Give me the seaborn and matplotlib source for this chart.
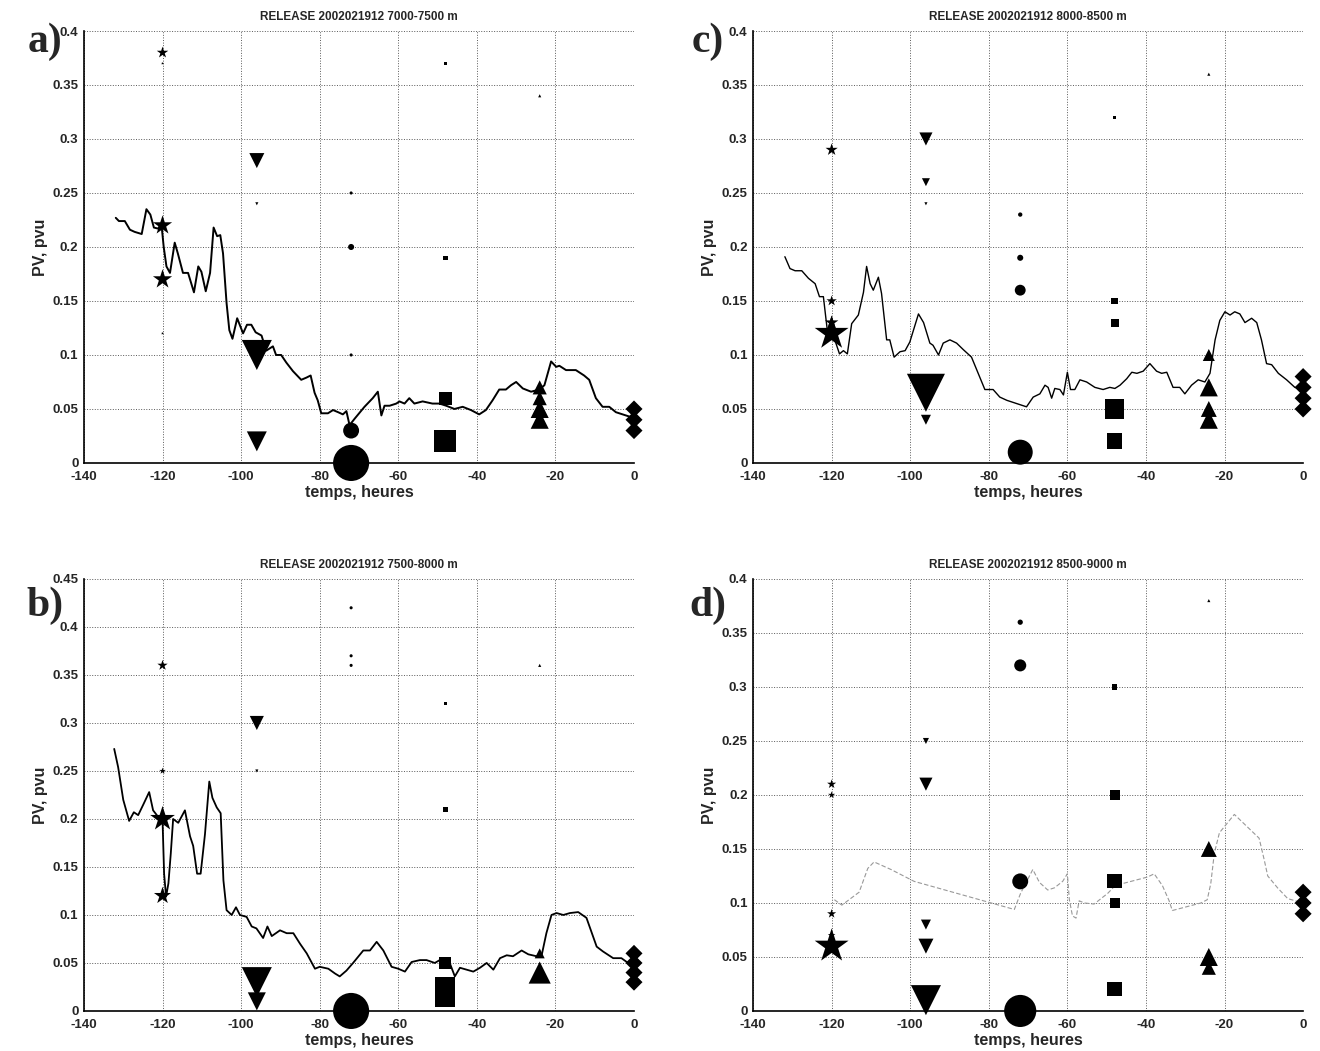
import numpy as np
import pandas as pd
import matplotlib
matplotlib.use('Agg')
import matplotlib.pyplot as plt
import seaborn as sns
from matplotlib.ticker import FuncFormatter, MultipleLocator

# PV along back-trajectory (hours before release), one trace per panel
line_t_a = [-131.9, -131.1, -129.6, -128.3, -127.1, -125.3, -124.1, -123.1, -122.2, -121.1,
            -120.3, -119.7, -119.0, -118.1, -116.9, -116.1, -114.8, -113.5, -112.0, -110.9,
            -110.1, -109.0, -107.9, -107.0, -106.1, -105.3, -104.6, -103.7, -103.0, -102.2,
            -101.0, -99.5, -98.5, -97.4, -96.3, -94.8, -93.6, -91.9, -91.1, -89.8,
            -88.5, -86.8, -84.7, -83.4, -82.3, -81.3, -80.5, -79.6, -77.9, -76.6,
            -75.3, -74.1, -73.2, -72.4, -71.1, -68.6, -66.5, -65.2, -64.3, -63.5,
            -62.2, -60.5, -59.7, -58.4, -57.2, -55.9, -53.8, -51.3, -49.5, -47.8,
            -45.7, -43.6, -41.5, -39.4, -37.7, -36.0, -34.3, -32.6, -31.3, -30.0,
            -28.3, -26.2, -24.1, -22.8, -21.1, -19.8, -19.0, -17.3, -14.8, -12.7,
            -11.4, -9.7, -8.0, -6.3, -4.6, -2.9, -1.2, 0.0]
line_pv_a = [0.227, 0.224, 0.224, 0.216, 0.214, 0.212, 0.235, 0.230, 0.218, 0.217,
             0.222, 0.200, 0.182, 0.176, 0.204, 0.194, 0.176, 0.176, 0.158, 0.182,
             0.177, 0.159, 0.176, 0.218, 0.210, 0.211, 0.194, 0.148, 0.123, 0.115,
             0.134, 0.120, 0.128, 0.128, 0.121, 0.118, 0.104, 0.108, 0.100, 0.100,
             0.093, 0.085, 0.077, 0.079, 0.081, 0.065, 0.058, 0.046, 0.046, 0.049,
             0.047, 0.045, 0.048, 0.035, 0.041, 0.052, 0.060, 0.066, 0.044, 0.053,
             0.053, 0.055, 0.057, 0.055, 0.060, 0.055, 0.057, 0.055, 0.055, 0.053,
             0.050, 0.052, 0.049, 0.045, 0.049, 0.058, 0.068, 0.068, 0.072, 0.075,
             0.069, 0.066, 0.068, 0.072, 0.094, 0.089, 0.090, 0.086, 0.086, 0.081,
             0.077, 0.060, 0.052, 0.052, 0.047, 0.045, 0.043, 0.042]

line_t_b = [-132.3, -131.3, -130.0, -128.5, -127.3, -126.2, -124.9, -123.4, -122.4, -120.7,
            -120.0, -119.6, -119.1, -118.5, -117.9, -117.3, -116.0, -114.3, -113.0, -112.2,
            -111.2, -110.3, -109.2, -108.1, -107.3, -106.2, -105.2, -104.5, -103.7, -102.4,
            -101.3, -100.3, -98.6, -97.3, -96.1, -94.4, -93.3, -92.2, -90.1, -88.4,
            -86.7, -85.0, -83.3, -81.2, -80.0, -77.8, -76.1, -74.9, -73.2, -71.5,
            -68.9, -67.2, -65.5, -63.8, -61.7, -60.0, -58.3, -56.6, -54.5, -52.8,
            -50.7, -48.6, -46.9, -45.6, -44.3, -42.6, -40.9, -39.2, -37.5, -35.8,
            -34.1, -32.4, -30.8, -28.6, -26.9, -24.8, -23.5, -22.3, -21.0, -19.7,
            -18.0, -16.3, -14.2, -12.1, -9.5, -7.9, -5.3, -3.2, -1.5, 0.0]
line_pv_b = [0.273, 0.254, 0.220, 0.198, 0.207, 0.204, 0.215, 0.228, 0.209, 0.200,
             0.199, 0.143, 0.119, 0.133, 0.164, 0.200, 0.196, 0.209, 0.182, 0.172,
             0.143, 0.143, 0.184, 0.239, 0.222, 0.212, 0.206, 0.136, 0.105, 0.100,
             0.108, 0.100, 0.098, 0.088, 0.086, 0.076, 0.088, 0.078, 0.084, 0.081,
             0.081, 0.070, 0.060, 0.044, 0.046, 0.044, 0.039, 0.036, 0.042, 0.050,
             0.063, 0.063, 0.072, 0.063, 0.046, 0.044, 0.041, 0.051, 0.053, 0.053,
             0.050, 0.055, 0.050, 0.036, 0.045, 0.043, 0.041, 0.045, 0.050, 0.043,
             0.055, 0.058, 0.057, 0.063, 0.059, 0.057, 0.058, 0.081, 0.100, 0.102,
             0.100, 0.102, 0.103, 0.097, 0.067, 0.062, 0.055, 0.055, 0.050, 0.050]

line_t_c = [-131.9, -130.6, -129.3, -127.6, -125.9, -124.2, -123.1, -122.1, -121.4, -120.8,
            -120.0, -119.2, -118.0, -117.0, -116.0, -114.9, -113.2, -111.9, -111.1, -110.2,
            -109.4, -108.1, -107.3, -106.0, -105.2, -104.1, -102.6, -101.3, -100.1, -97.9,
            -96.6, -95.0, -94.2, -92.8, -91.6, -89.9, -88.2, -86.5, -84.4, -82.7,
            -81.0, -78.9, -77.2, -75.4, -72.9, -70.4, -68.7, -67.0, -65.7, -64.9,
            -64.0, -63.2, -61.9, -61.0, -60.0, -59.2, -58.1, -56.8, -55.1, -53.0,
            -50.9, -49.2, -47.9, -46.6, -44.9, -43.6, -42.3, -40.7, -39.0, -37.3,
            -36.0, -34.7, -33.1, -31.4, -30.1, -28.4, -26.7, -25.0, -23.7, -22.4,
            -21.2, -19.9, -18.6, -17.4, -16.1, -14.8, -13.1, -11.8, -10.6, -9.3,
            -8.0, -6.3, -4.2, -2.1, 0.0]
line_pv_c = [0.191, 0.180, 0.178, 0.178, 0.171, 0.166, 0.154, 0.154, 0.132, 0.114,
             0.123, 0.114, 0.101, 0.104, 0.101, 0.129, 0.137, 0.158, 0.182, 0.166,
             0.160, 0.172, 0.157, 0.114, 0.114, 0.098, 0.103, 0.104, 0.112, 0.138,
             0.130, 0.111, 0.109, 0.100, 0.111, 0.114, 0.111, 0.105, 0.098, 0.083,
             0.068, 0.068, 0.061, 0.058, 0.055, 0.052, 0.061, 0.064, 0.072, 0.070,
             0.060, 0.069, 0.068, 0.063, 0.084, 0.068, 0.068, 0.077, 0.075, 0.070,
             0.068, 0.070, 0.069, 0.072, 0.078, 0.084, 0.083, 0.085, 0.092, 0.085,
             0.083, 0.084, 0.070, 0.070, 0.064, 0.072, 0.077, 0.075, 0.083, 0.114,
             0.132, 0.140, 0.137, 0.140, 0.138, 0.130, 0.134, 0.130, 0.114, 0.092,
             0.091, 0.083, 0.077, 0.070, 0.068]

line_t_d = [-119.3, -117.4, -113.0, -110.8, -109.2, -104.9, -99.0, -73.5, -71.9, -68.8,
            -67.1, -65.0, -63.3, -61.2, -60.0, -59.5, -58.7, -57.8, -57.0, -55.7,
            -53.2, -49.7, -47.6, -45.9, -39.6, -37.9, -35.8, -34.1, -33.3, -26.0,
            -24.4, -23.5, -22.6, -21.3, -17.5, -11.2, -9.9, -9.0, -6.5, -3.9, 0.0]
line_pv_d = [0.103, 0.098, 0.110, 0.132, 0.138, 0.131, 0.120, 0.094, 0.109, 0.131,
             0.119, 0.112, 0.114, 0.120, 0.127, 0.103, 0.088, 0.086, 0.102, 0.100,
             0.099, 0.109, 0.117, 0.118, 0.124, 0.127, 0.116, 0.102, 0.093, 0.100,
             0.103, 0.118, 0.146, 0.165, 0.182, 0.160, 0.140, 0.125, 0.114, 0.104, 0.100]

# PV of the trajectory bundles at each 24 h step, and estimated number of trajectories
mk_t_a = [-120, -120, -120, -120, -120, -96, -96, -96, -96, -72, -72, -72, -72, -72,
          -48, -48, -48, -48, -24, -24, -24, -24, -24, 0, 0, 0]
mk_pv_a = [0.38, 0.37, 0.22, 0.17, 0.12, 0.28, 0.24, 0.10, 0.02, 0.25, 0.20, 0.10, 0.03, 0.0,
           0.37, 0.19, 0.06, 0.02, 0.34, 0.07, 0.06, 0.05, 0.04, 0.05, 0.04, 0.03]
mk_n_a = [16, 1, 45, 45, 1, 25, 1, 100, 44, 1, 4, 1, 28, 144,
          1, 2, 19, 54, 1, 22, 22, 36, 36, 16, 16, 16]

mk_t_b = [-120, -120, -120, -120, -96, -96, -96, -96, -72, -72, -72, -72,
          -48, -48, -48, -48, -48, -24, -24, -24, 0, 0, 0, 0]
mk_pv_b = [0.36, 0.25, 0.20, 0.12, 0.30, 0.25, 0.03, 0.01, 0.42, 0.37, 0.36, 0.0,
           0.32, 0.21, 0.05, 0.025, 0.015, 0.36, 0.06, 0.04, 0.06, 0.05, 0.04, 0.03]
mk_n_b = [13, 5, 75, 36, 22, 1, 100, 36, 1, 1, 1, 144,
          1, 2, 16, 44, 44, 1, 11, 54, 16, 16, 16, 16]

mk_t_c = [-120, -120, -120, -120, -96, -96, -96, -96, -96, -72, -72, -72, -72,
          -48, -48, -48, -48, -48, -24, -24, -24, -24, -24, 0, 0, 0, 0]
mk_pv_c = [0.29, 0.15, 0.13, 0.12, 0.30, 0.26, 0.24, 0.065, 0.04, 0.23, 0.19, 0.16, 0.01,
           0.32, 0.15, 0.13, 0.05, 0.02, 0.36, 0.10, 0.07, 0.05, 0.04, 0.08, 0.07, 0.06, 0.05]
mk_n_c = [18, 13, 22, 140, 19, 7, 1, 160, 11, 2, 4, 13, 69,
          1, 4, 7, 44, 28, 1, 16, 36, 28, 36, 16, 16, 16, 16]

mk_t_d = [-120, -120, -120, -120, -120, -96, -96, -96, -96, -96, -72, -72, -72, -72,
          -48, -48, -48, -48, -48, -24, -24, -24, -24, 0, 0, 0]
mk_pv_d = [0.21, 0.20, 0.09, 0.07, 0.06, 0.25, 0.21, 0.08, 0.06, 0.01, 0.36, 0.32, 0.12, 0.0,
           0.30, 0.20, 0.12, 0.10, 0.02, 0.38, 0.15, 0.05, 0.04, 0.11, 0.10, 0.09]
mk_n_d = [10, 6, 10, 7, 140, 4, 19, 11, 25, 100, 3, 16, 28, 114,
          3, 11, 22, 11, 22, 1, 28, 36, 22, 16, 16, 16]

titles = ['RELEASE 2002021912 7000-7500 m', 'RELEASE 2002021912 7500-8000 m',
          'RELEASE 2002021912 8000-8500 m', 'RELEASE 2002021912 8500-9000 m']
panel_tags = ['a)', 'b)', 'c)', 'd)']
y_tops = [0.4, 0.45, 0.4, 0.4]

MARKERS = {-120: '*', -96: 'v', -72: 'o', -48: 's', -24: '^', 0: 'D'}

sns.set_style('white')
plt.rcParams['font.family'] = ['Liberation Sans', 'DejaVu Sans']
plt.rcParams['font.weight'] = 'bold'
plt.rcParams['axes.labelweight'] = 'bold'
plt.rcParams['axes.titleweight'] = 'bold'
plt.rcParams['axes.unicode_minus'] = False


def draw_panel(ax, lt, lpv, mt, mpv, mn, title, ytop, line_style):
    sns.lineplot(x=lt, y=lpv, sort=False, estimator=None, ax=ax, zorder=2, **line_style)
    df = pd.DataFrame({'t': mt, 'pv': mpv, 'n': mn})
    sns.scatterplot(data=df, x='t', y='pv', style='t', markers=MARKERS,
                    size='n', sizes=(5, 750), size_norm=(1, 160),
                    color='black', edgecolor='none', linewidth=0,
                    legend=False, ax=ax, zorder=3, clip_on=False)
    ax.set_xlim(-140, 0)
    ax.set_ylim(0, ytop)
    ax.xaxis.set_major_locator(MultipleLocator(20))
    ax.yaxis.set_major_locator(MultipleLocator(0.05))
    ax.yaxis.set_major_formatter(FuncFormatter(lambda v, p: f'{v:g}'))
    ax.xaxis.set_major_formatter(FuncFormatter(lambda v, p: f'{v:g}'))
    ax.grid(True, linestyle=':', color='0.35', linewidth=0.7)
    for s in ['top', 'right']:
        ax.spines[s].set_visible(False)
    for s in ['left', 'bottom']:
        ax.spines[s].set_linewidth(1.2)
        ax.spines[s].set_color('black')
    ax.tick_params(direction='in', length=4, width=1, labelsize=9.5)
    ax.tick_params(axis='x', pad=6)
    ax.tick_params(axis='y', pad=4)
    ax.set_xlabel('temps, heures', fontsize=11.5, labelpad=1)
    ax.set_ylabel('PV, pvu', fontsize=11.5, labelpad=3)
    ax.set_title(title, fontsize=8.5, pad=8)


fig = plt.figure(figsize=(13.2, 10.51), dpi=100)
rects = [[0.0636, 0.5595, 0.4167, 0.4110], [0.0636, 0.0381, 0.4167, 0.4110],
         [0.5705, 0.5595, 0.4167, 0.4110], [0.5705, 0.0381, 0.4167, 0.4110]]
lines = [(line_t_a, line_pv_a), (line_t_b, line_pv_b), (line_t_c, line_pv_c), (line_t_d, line_pv_d)]
marks = [(mk_t_a, mk_pv_a, mk_n_a), (mk_t_b, mk_pv_b, mk_n_b),
         (mk_t_c, mk_pv_c, mk_n_c), (mk_t_d, mk_pv_d, mk_n_d)]
line_styles = [dict(color='black', linewidth=1.4), dict(color='black', linewidth=1.3),
               dict(color='black', linewidth=1.0),
               dict(color='0.6', linewidth=0.8, linestyle=(0, (4, 2)))]
tag_pos = [(0.034, 0.96), (0.034, 0.424), (0.536, 0.96), (0.536, 0.424)]

for i in range(4):
    ax = fig.add_axes(rects[i])
    draw_panel(ax, *lines[i], *marks[i], titles[i], y_tops[i], line_styles[i])
    fig.text(tag_pos[i][0], tag_pos[i][1], panel_tags[i], fontsize=30, fontweight='bold',
             family=['Liberation Serif', 'DejaVu Serif'], ha='center', va='center')

fig.savefig('out.png', dpi=100)
